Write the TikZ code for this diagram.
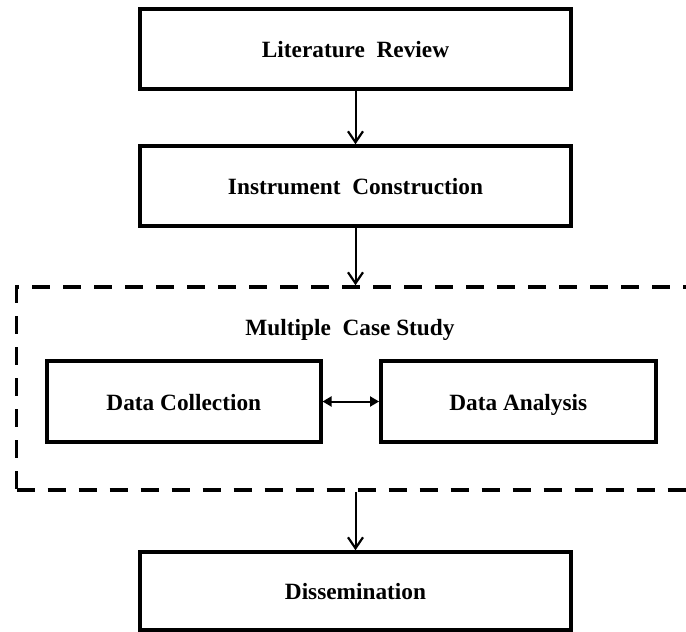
\documentclass[tikz,border=0pt]{standalone}
\usepackage{fontspec}
\setmainfont{Liberation Serif}
\usetikzlibrary{arrows.meta}
\begin{document}
\begin{tikzpicture}[x=1pt,y=-1pt,every node/.style={font=\fontsize{23.3}{27}\selectfont\bfseries,text height=19pt,text depth=1.5pt},
  stagebox/.style={draw,line width=3.5pt,minimum height=80pt,inner sep=0pt},
  flow/.style={line width=2pt,-{Straight Barb[length=11pt,width=15pt,line width=2.2pt]}}]
\useasboundingbox (0,0) rectangle (686,632);
\node[stagebox,minimum width=431pt] (lit) at (355.5,49) {Literature~~Review};
\node[stagebox,minimum width=431pt] (inst) at (355.5,186) {Instrument~~Construction};
\node[draw,dashed,line width=3.5pt,dash pattern=on 18pt off 13pt,minimum width=690pt,minimum height=203pt,inner sep=0pt] (casebox) at (361.7,388.5) {};
\node (case) at (350,327) {Multiple~~Case Study};
\node[stagebox,minimum width=274pt,minimum height=81pt] (collect) at (183.8,401.5) {Data Collection};
\node[stagebox,minimum width=275pt,minimum height=81pt] (analysis) at (518.3,401.5) {Data Analysis};
\node[stagebox,minimum width=431pt,minimum height=78pt] (dissem) at (355.5,591) {Dissemination};
\draw[flow] (lit) -- (inst);
\draw[flow] (inst) -- (inst.south |- casebox.north);
\draw[flow] (dissem.north |- casebox.south) -- (dissem);
\draw[line width=2pt,{Triangle[length=9pt,width=10pt]}-{Triangle[length=9pt,width=10pt]}] (collect) -- (analysis);
\end{tikzpicture}
\end{document}
